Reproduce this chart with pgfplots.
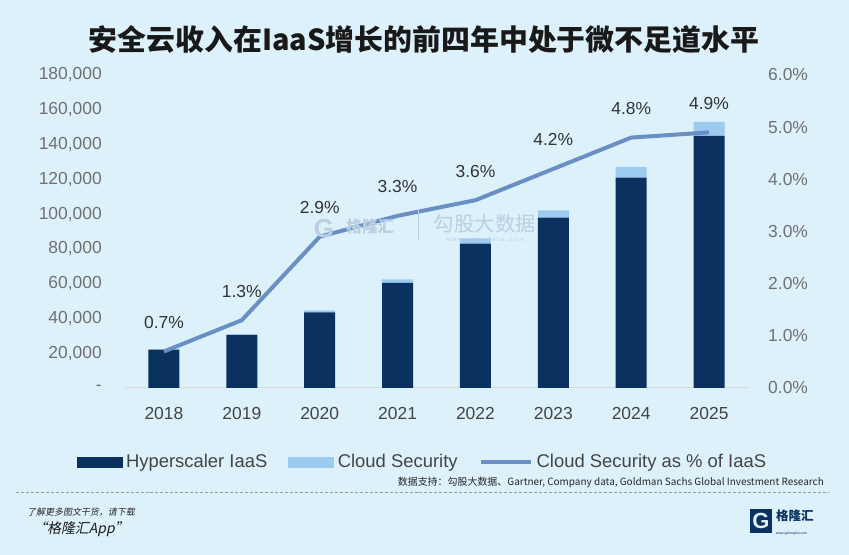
\documentclass[border=0pt]{standalone}
\usepackage{pgfplots}
\pgfplotsset{compat=1.18}
\usepackage{fontspec}
\setmainfont{Liberation Sans}
\newfontfamily\cjk{Noto Sans CJK SC}
\newfontfamily\cjki[FakeSlant=0.2]{Noto Sans CJK SC}
\definecolor{bg}{HTML}{DDF1FB}
\definecolor{navy}{HTML}{0B3160}
\definecolor{lightb}{HTML}{9DCBEF}
\definecolor{lineb}{HTML}{6A8FC3}
\definecolor{tickc}{HTML}{707070}
\definecolor{yearc}{HTML}{444444}
\definecolor{wm}{HTML}{B9CFE2}
\begin{document}
\begin{tikzpicture}[x=1bp,y=1bp]
\fill[bg] (0,0) rectangle (849,555);
\node[font=\cjk\bfseries\fontsize{29}{32}\selectfont, text=black!90] at (424,515) {安全云收入在IaaS增长的前四年中处于微不足道水平};
\begin{axis}[at={(125bp,167bp)}, anchor=south west, width=623bp, height=313bp, scale only axis,
  xmin=-0.5, xmax=7.5, ymin=0, ymax=180000,
  ybar stacked, bar width=31bp,
  axis x line*=bottom, axis y line*=left,
  x axis line style={draw=black!15, line width=1bp},
  y axis line style={draw=none},
  tick style={draw=none},
  scaled y ticks=false,
  xtick={0,...,7}, xticklabels={2018,2019,2020,2021,2022,2023,2024,2025},
  ytick={0,20000,...,180000},
  yticklabels={{-},{20,000},{40,000},{60,000},{80,000},{100,000},{120,000},{140,000},{160,000},{180,000}},
  every x tick label/.append style={inner sep=0pt, yshift=-19bp, font=\fontsize{17.5}{20}\selectfont, text=yearc},
  every y tick label/.append style={inner sep=0pt, xshift=-23bp, font=\fontsize{17.5}{20}\selectfont, text=tickc},
  clip=false]
\addplot[fill=navy, draw=none] coordinates {(0,22000) (1,30500) (2,43500) (3,60500) (4,83000) (5,98000) (6,121000) (7,145000)};
\addplot[fill=lightb, draw=none] coordinates {(0,200) (1,400) (2,1200) (3,2000) (4,3000) (5,4200) (6,6000) (7,8000)};
\end{axis}
\begin{axis}[at={(125bp,167bp)}, anchor=south west, width=623bp, height=313bp, scale only axis,
  xmin=-0.5, xmax=7.5, ymin=0, ymax=6,
  axis y line*=right, hide x axis,
  y axis line style={draw=none}, tick style={draw=none},
  ytick={0,1,...,6},
  yticklabels={{0.0\%},{1.0\%},{2.0\%},{3.0\%},{4.0\%},{5.0\%},{6.0\%}},
  every y tick label/.append style={inner sep=0pt, xshift=20bp, font=\fontsize{17.5}{20}\selectfont, text=tickc},
  clip=false,
  legend columns=3,
  legend style={at={(0.479,-0.2364)}, anchor=center, draw=none, fill=none,
    font=\fontsize{18.5}{21}\selectfont, text=yearc,
    /tikz/every even column/.append style={column sep=17bp},
    inner sep=0pt, nodes={inner xsep=4bp}},
  ]
\addlegendimage{legend image code/.code={\fill[navy] (0bp,-5bp) rectangle (45bp,5bp);}}
\addlegendentry{Hyperscaler IaaS}
\addlegendimage{legend image code/.code={\fill[lightb] (0bp,-5bp) rectangle (45bp,5bp);}}
\addlegendentry{Cloud Security}
\addplot[lineb, line width=4bp, mark=none,
  point meta=explicit symbolic, nodes near coords,
  every node near coord/.append style={anchor=center, yshift=29bp, font=\fontsize{17.5}{20}\selectfont, text=black!80},
  legend image code/.code={\draw[lineb, line width=4bp] (0bp,0bp) -- (50bp,0bp);}]
  coordinates {(0,0.7) [0.7\%] (1,1.3) [1.3\%] (2,2.9) [2.9\%] (3,3.3) [3.3\%] (4,3.6) [3.6\%] (5,4.2) [4.2\%] (6,4.8) [4.8\%] (7,4.9) [4.9\%]};
\addlegendentry{Cloud Security as \% of IaaS}
\end{axis}
% watermarks
\node[font=\cjk\fontsize{20.5}{22}\selectfont, text=wm] at (485,331) {勾股大数据};
\node[font=\fontsize{6}{7}\selectfont, text=wm] at (485,315) {w w w . g o g u d a t a . c o m};
\node[font=\cjk\bfseries\fontsize{16}{18}\selectfont, text=wm] at (370,329) {格隆汇};
\node[font=\bfseries\fontsize{26}{28}\selectfont, text=wm] at (324,326) {G};
\draw[wm, line width=0.6bp] (418,315) -- (418,345);
% source
\node[anchor=east, font=\cjk\fontsize{10}{12}\selectfont, text=black!85, inner sep=0pt] at (824,73) {数据支持：勾股大数据、Gartner, Company data, Goldman Sachs Global Investment Research};
\draw[black!40, densely dashed, line width=0.6bp] (16,63) -- (828,63);
\node[anchor=west, font=\cjki\fontsize{9}{10}\selectfont, text=black!85, inner sep=0pt] at (27,43) {了解更多图文干货，请下载};
\node[anchor=west, font=\cjki\fontsize{14}{16}\selectfont, text=black!90, inner sep=0pt] at (33,26) {“格隆汇App”};
% logo
\fill[navy] (750,22) rectangle (772,46);
\node[font=\bfseries\fontsize{22}{24}\selectfont, text=bg, inner sep=0pt] at (761,34) {G};
\node[anchor=west, font=\cjk\bfseries\fontsize{12.5}{14}\selectfont, text=navy, inner sep=0pt] at (776,39) {格隆汇};
\node[anchor=west, font=\fontsize{3.5}{4}\selectfont, text=navy, inner sep=0pt] at (776,21) {www.gelonghui.com};
\end{tikzpicture}
\end{document}
